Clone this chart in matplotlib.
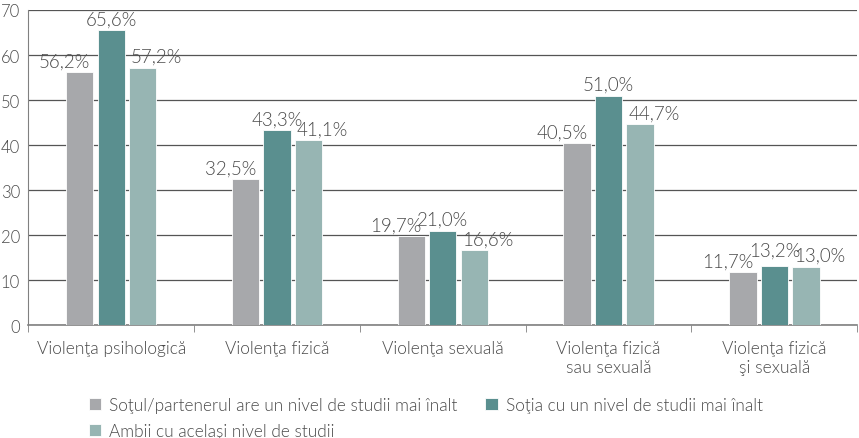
import numpy as np
import matplotlib
matplotlib.use('Agg')
import matplotlib.pyplot as plt

categories = ['Violenţa psihologică', 'Violenţa fizică', 'Violenţa sexuală',
              'Violenţa fizică\nsau sexuală', 'Violenţa fizică\nşi sexuală']
series = ['Soţul/partenerul are un nivel de studii mai înalt',
          'Soţia cu un nivel de studii mai înalt',
          'Ambii cu acelaşi nivel de studii']
sotul = [56.2, 32.5, 19.7, 40.5, 11.7]
sotia = [65.6, 43.3, 21.0, 51.0, 13.2]
ambii = [57.2, 41.1, 16.6, 44.7, 13.0]
yticks = [0, 10, 20, 30, 40, 50, 60, 70]

colors = ['#a7a8ab', '#5a8f8f', '#97b5b3']
txt = '#4a4a4a'
plt.rcParams['font.family'] = ['Lato', 'DejaVu Sans']
plt.rcParams['font.weight'] = 300

fig = plt.figure(figsize=(8.59, 4.39), dpi=100)
ax = fig.add_axes([0.033, 0.257, 0.965, 0.718])
x = np.arange(len(categories))
w = 0.165
handles = []
for i, (vals, c, lab) in enumerate(zip([sotul, sotia, ambii], colors, series)):
    bars = ax.bar(x + (i - 1) * 0.19, vals, w, color=c, edgecolor='white', lw=0.6, label=lab, zorder=3)
    handles.append(bars)
    for j, (b, v) in enumerate(zip(bars, vals)):
        s = f'{v:.1f}%'.replace('.', ',')
        kw = dict(va='bottom', fontsize=13.5, color=txt, zorder=4)
        if i == 0:
            ax.text(b.get_x() + b.get_width() - 0.02, v + 0.6, s, ha='right', **kw)
        elif i == 1:
            # lift the middle label a little when it would collide with its neighbour
            dy = 1.6 if abs(v - ambii[j]) < 2 else 0.6
            ax.text(b.get_x() + b.get_width() / 2, v + dy, s, ha='center', **kw)
        else:
            ax.text(b.get_x() + 0.01, v + 0.6, s, ha='left', **kw)

ax.set_xlim(-0.5, len(categories) - 0.5)
ax.set_ylim(0, 70)
ax.set_yticks(yticks)
ax.yaxis.grid(True, color='#555555', lw=0.9, zorder=0)
ax.set_xticks(x)
ax.set_xticklabels(categories, fontsize=12.5, color=txt, linespacing=1.2)
ax.set_xticks(np.arange(len(categories) + 1) - 0.5, minor=True)
ax.tick_params(axis='x', which='major', length=0, pad=11)
ax.tick_params(axis='x', which='minor', length=5, color='#808080', direction='out')
ax.tick_params(axis='y', length=0, labelsize=12, labelcolor=txt, pad=6)
for s in ['top', 'right']:
    ax.spines[s].set_visible(False)
ax.spines['left'].set_color('#808080')
ax.spines['bottom'].set_color('#808080')
ax.spines['bottom'].set_linewidth(1.2)

order = [handles[0], handles[2], handles[1]]
fig.legend(order, [h.get_label() for h in order], loc='lower left', bbox_to_anchor=(0.085, -0.038), ncol=2,
           frameon=False, fontsize=12.4, handlelength=0.75, handleheight=0.75, handletextpad=0.45,
           columnspacing=1.6, labelspacing=0.6, labelcolor=txt)
fig.savefig('out.png', dpi=100)
